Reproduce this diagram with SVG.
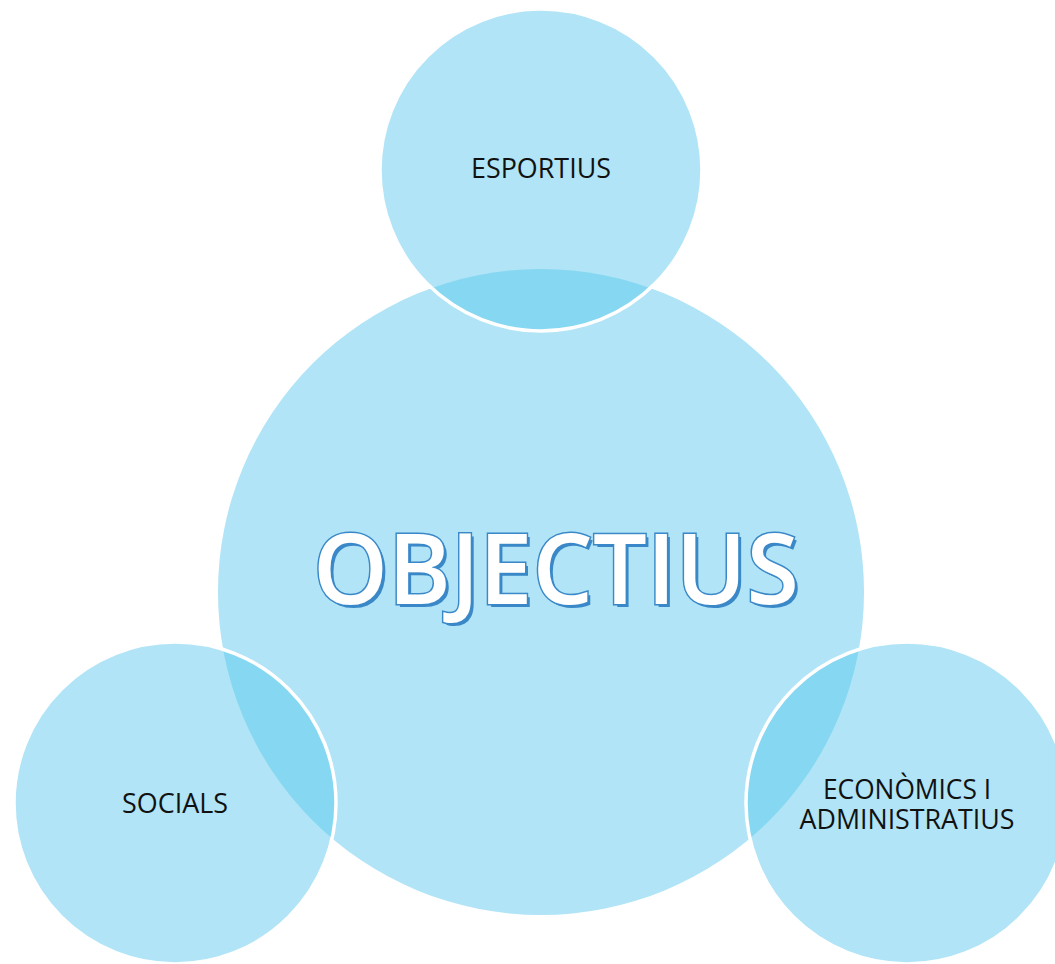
<svg xmlns="http://www.w3.org/2000/svg" width="1055" height="964" viewBox="0 0 1055 964">
<style>
.fill{fill:#b0e4f6}
.lens{fill:#86d7f1}
.ring{fill:none;stroke:#ffffff;stroke-width:3.5}
.lbl{font-family:"Open Sans","Liberation Sans",sans-serif;font-size:27px;fill:#111111;text-anchor:middle}
.big{font-family:"Open Sans","Liberation Sans",sans-serif;font-size:98px;font-weight:600;text-anchor:middle}
</style>
<defs>
<clipPath id="cBig"><circle cx="541" cy="592" r="323"/></clipPath>
</defs>
<rect width="1055" height="964" fill="#ffffff"/>
<g id="center">
<circle class="fill" cx="541" cy="592" r="323"/>
</g>
<g id="esportius">
<circle class="fill" cx="541" cy="170" r="161"/>
<circle class="lens" cx="541" cy="170" r="161" clip-path="url(#cBig)"/>
<circle class="ring" cx="541" cy="170" r="161"/>
<text class="lbl" x="541" y="178" textLength="140" lengthAdjust="spacingAndGlyphs">ESPORTIUS</text>
</g>
<g id="socials">
<circle class="fill" cx="175" cy="803" r="161"/>
<circle class="lens" cx="175" cy="803" r="161" clip-path="url(#cBig)"/>
<circle class="ring" cx="175" cy="803" r="161"/>
<text class="lbl" x="175" y="813" textLength="106" lengthAdjust="spacingAndGlyphs">SOCIALS</text>
</g>
<g id="economics">
<circle class="fill" cx="907" cy="803" r="161"/>
<circle class="lens" cx="907" cy="803" r="161" clip-path="url(#cBig)"/>
<circle class="ring" cx="907" cy="803" r="161"/>
<text class="lbl" x="907" y="799" textLength="168" lengthAdjust="spacingAndGlyphs">ECONÒMICS I</text>
<text class="lbl" x="907" y="829" textLength="215" lengthAdjust="spacingAndGlyphs">ADMINISTRATIUS</text>
</g>
<g id="title">
<text class="big" x="559" y="607" fill="#3a88c8" textLength="486" lengthAdjust="spacingAndGlyphs">OBJECTIUS</text>
<text class="big" x="556" y="604" fill="#ffffff" stroke="#3a88c8" stroke-width="3" paint-order="stroke" textLength="486" lengthAdjust="spacingAndGlyphs">OBJECTIUS</text>
</g>
<g id="connectors"/>
</svg>
